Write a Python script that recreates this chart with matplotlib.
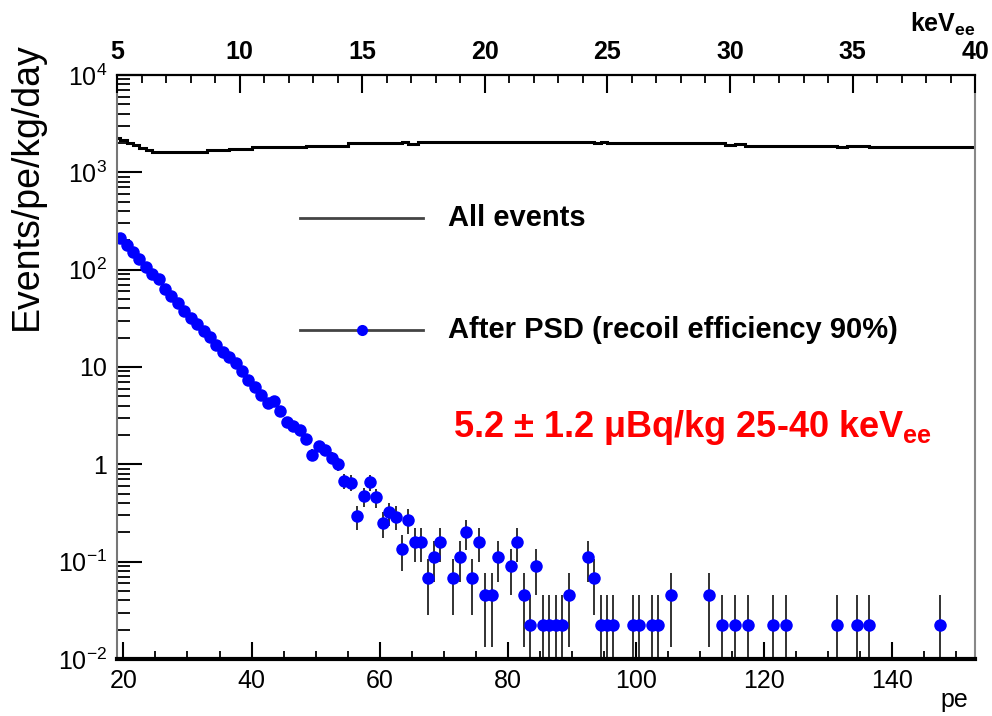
import numpy as np
import matplotlib
matplotlib.use('Agg')
import matplotlib.pyplot as plt
from matplotlib.ticker import MultipleLocator, LogLocator, FixedLocator, NullFormatter

plt.rcParams['font.family'] = ['Liberation Sans', 'DejaVu Sans']

# "All events" histogram (step), bin edges in pe
all_edges = [19, 19.5, 20.5, 21.5, 22.5, 23.5, 24.5, 33, 36.5, 40, 48.5, 54, 55,
             63.5, 64.5, 66, 93.5, 94.5, 95.5, 114, 115.5, 117, 131.5, 133, 136.5, 153]
all_vals = [2230, 2150, 2020, 1900, 1780, 1700, 1620, 1675, 1730, 1800, 1880, 1850,
            1990, 2060, 1960, 2070, 1990, 2060, 1980, 1900, 1970, 1860, 1810, 1870, 1810]

# After PSD points (bin centres in pe, rate in events/pe/kg/day)
psd_pe = [19.5, 20.5, 21.5, 22.5, 23.5, 24.5, 25.5, 26.5, 27.5, 28.5, 29.5, 30.5,
          31.5, 32.5, 33.5, 34.5, 35.5, 36.5, 37.5, 38.5, 39.5, 40.5, 41.5, 42.5,
          43.5, 44.5, 45.5, 46.5, 47.5, 48.5, 49.5, 50.5, 51.5, 52.5, 53.5, 54.5,
          55.5, 56.5, 57.5, 58.5, 59.5, 60.5, 61.5, 62.5, 63.5, 64.5, 65.5, 66.5,
          67.5, 68.5, 69.5, 71.5, 72.5, 73.5, 74.5, 75.5, 76.5, 77.5, 78.5, 80.5,
          81.5, 82.5, 83.5, 84.5, 85.5, 86.5, 87.5, 88.5, 89.5, 92.5, 93.5, 94.5,
          95.5, 96.5, 99.5, 100.5, 102.5, 103.5, 105.5, 111.5, 113.5, 115.5, 117.5,
          121.5, 123.5, 131.5, 134.5, 136.5, 147.5]
psd_rate = [209, 178, 151, 129, 107, 91, 81, 63, 54, 45, 38, 32,
            27.5, 23.4, 20.4, 17, 14.1, 12.6, 11.0, 9.1, 7.4, 6.3, 5.1, 4.3,
            4.5, 3.5, 2.75, 2.5, 2.24, 1.8, 1.26, 1.55, 1.41, 1.17, 1.0, 0.68,
            0.65, 0.295, 0.47, 0.66, 0.46, 0.25, 0.32, 0.29, 0.135, 0.27, 0.16, 0.16,
            0.0675, 0.1125, 0.16, 0.0675, 0.1125, 0.2, 0.0675, 0.16, 0.045, 0.045, 0.1125, 0.09,
            0.16, 0.045, 0.0225, 0.09, 0.0225, 0.0225, 0.0225, 0.0225, 0.045, 0.1125, 0.0675, 0.0225,
            0.0225, 0.0225, 0.0225, 0.0225, 0.0225, 0.0225, 0.045, 0.045, 0.0225, 0.0225, 0.0225,
            0.0225, 0.0225, 0.0225, 0.0225, 0.0225, 0.0225]
one_count = 0.0225  # rate of a single event per bin

ytick_vals = [1e-2, 1e-1, 1, 10, 1e2, 1e3, 1e4]
ytick_labels = [r'$\mathregular{10^{-2}}$', r'$\mathregular{10^{-1}}$', '1', '10',
                r'$\mathregular{10^{2}}$', r'$\mathregular{10^{3}}$', r'$\mathregular{10^{4}}$']

rate = np.array(psd_rate)
err = np.sqrt(rate * one_count)
err_lo = np.minimum(err, rate * 0.999)

fig = plt.figure(figsize=(9.92, 7.16), dpi=100)
ax = fig.add_axes([0.118, 0.0796, 0.865, 0.8157])

ax.stairs(all_vals, all_edges, color='black', lw=2.2, baseline=None)
ax.errorbar(psd_pe, psd_rate, yerr=[err_lo, err], fmt='none', ecolor='#222222', elinewidth=1.3)
ax.errorbar(psd_pe, psd_rate, xerr=0.5, fmt='none', ecolor='#0000ff', elinewidth=3)
ax.plot(psd_pe, psd_rate, 'o', color='#0000ff', ms=9, mew=0)

ax.set_yscale('log')
ax.set_xlim(19, 153)
ax.set_ylim(1e-2, 1e4)

ax.xaxis.set_major_locator(MultipleLocator(20))
ax.xaxis.set_minor_locator(MultipleLocator(5))
ax.yaxis.set_major_locator(FixedLocator(ytick_vals))
ax.set_yticklabels(ytick_labels)
ax.yaxis.set_minor_locator(LogLocator(base=10, subs=np.arange(2, 10)))
ax.yaxis.set_minor_formatter(NullFormatter())

ax.tick_params(axis='x', which='major', direction='in', length=12, width=1.5, labelsize=18, pad=7, top=False)
ax.tick_params(axis='x', which='minor', direction='in', length=6, width=1.3, top=False)
ax.tick_params(axis='y', which='major', direction='in', length=18, width=1.5, labelsize=18, pad=7, right=False)
ax.tick_params(axis='y', which='minor', direction='in', length=9, width=1.3, right=False)

ax.spines['bottom'].set_linewidth(3)
ax.spines['top'].set_linewidth(1.6)
ax.spines['left'].set_color('#777777')
ax.spines['left'].set_linewidth(1.5)
ax.spines['right'].set_color('#888888')
ax.spines['right'].set_linewidth(1.5)

# top axis in keV_ee
ax2 = ax.twiny()
ax2.set_xlim(5, 40)
ax2.xaxis.set_major_locator(MultipleLocator(5))
ax2.xaxis.set_minor_locator(MultipleLocator(1))
ax2.tick_params(axis='x', which='major', direction='in', length=13, width=1.5, labelsize=18, pad=8)
ax2.tick_params(axis='x', which='minor', direction='in', length=6, width=1.3)
for lab in ax2.get_xticklabels():
    lab.set_fontweight('bold')
for s in ax2.spines.values():
    s.set_visible(False)

fig.text(0.983, 0.955, r'keV$_{\mathregular{ee}}$', ha='right', va='baseline',
         fontsize=18, fontweight='bold')
fig.text(0.976, 0.022, 'pe', ha='right', va='center', fontsize=18)
fig.text(0.027, 0.74, 'Events/pe/kg/day', rotation=90, ha='center', va='center', fontsize=27)

# legend drawn by hand
ax.plot([0.213, 0.357], [0.755, 0.755], color='#444444', lw=2, transform=ax.transAxes)
ax.text(0.386, 0.755, 'All events', transform=ax.transAxes, ha='left', va='center',
        fontsize=21, fontweight='bold')
ax.plot([0.213, 0.357], [0.563, 0.563], color='#444444', lw=2, transform=ax.transAxes)
ax.plot([0.2855], [0.563], 'o', color='#0000ff', ms=8, mew=0, transform=ax.transAxes)
ax.text(0.386, 0.563, 'After PSD (recoil efficiency 90%)', transform=ax.transAxes,
        ha='left', va='center', fontsize=21, fontweight='bold')

ax.text(0.392, 0.397, r'5.2 ± 1.2 μBq/kg 25-40 keV$_{\mathregular{ee}}$', transform=ax.transAxes,
        ha='left', va='center', fontsize=26, fontweight='bold', color='#ff0000')

fig.savefig('out.png', dpi=100)
